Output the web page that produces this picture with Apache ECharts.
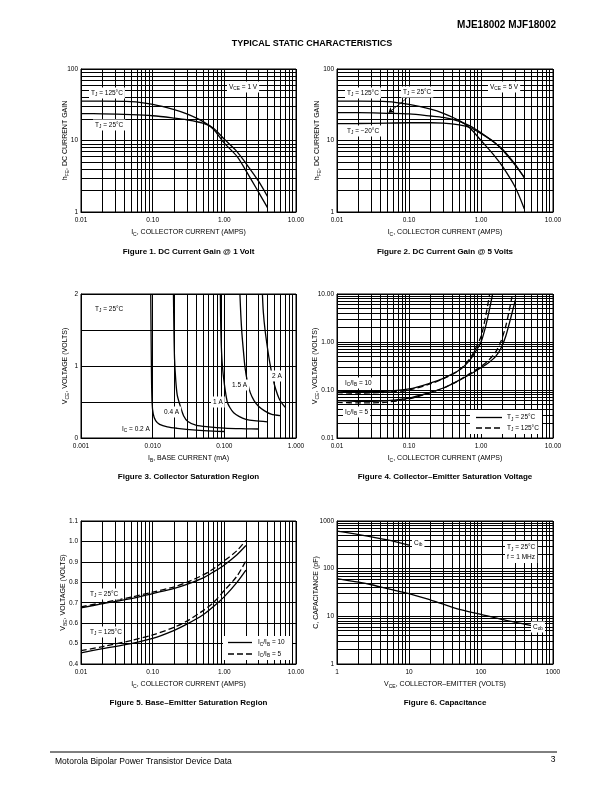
<!DOCTYPE html>
<html><head><meta charset="utf-8">
<script src="https://cdn.jsdelivr.net/npm/echarts/dist/echarts.min.js"></script>
<style>html,body{margin:0;padding:0;background:#fff}#c{width:612px;height:792px}</style>
</head><body><div id="c"></div>
<script>
// ---------- DATA ----------
// Figure 1: DC current gain @ 1 V
const f1Ic = [0.01,0.02,0.05,0.1,0.2,0.3,0.5,0.7,1,1.5,2,3,4];
const f1Hfe125 = [35.5,35.5,35,32,27,23.5,18.5,14.5,9.2,6,3.8,1.9,1.15];
const f1Hfe25 = [23.8,23.6,23,22.2,20.6,19.5,17.5,15,10.4,7,4.8,2.7,1.65];
const f1XTicks = ['0.01','0.10','1.00','10.00'];
const f1YTicks = ['1','10','100'];
// Figure 2: DC current gain @ 5 V
const f2Ic = [0.01,0.02,0.05,0.1,0.2,0.3,0.5,0.7,1,1.5,2,3,4];
const f2Hfe125 = [35.5,35.5,35,32,27.5,24,19,15,10,6.3,4.3,2.2,1.1];
const f2Hfe25 = [24.5,24.5,24,23.5,22,21,18.5,16,12.8,9.5,7.5,4.6,3];
const f2HfeM20 = [17.2,17.3,17.5,17.7,17.7,17.5,16.5,15.2,12.5,9.6,7.3,4.5,3.05];
// Figure 3: collector saturation region (IB in mA, VCE in V)
const f3Ib02 = [0.0094,0.0096,0.0098,0.0102,0.011,0.0125,0.016,0.022,0.04,0.07,0.1];
const f3V02  = [2,1,0.5,0.33,0.24,0.19,0.155,0.135,0.11,0.095,0.09];
const f3Ib04 = [0.0195,0.0198,0.0202,0.021,0.022,0.024,0.027,0.031,0.04,0.06,0.1,0.2,0.3];
const f3V04  = [2,1.5,1.1,0.8,0.6,0.46,0.31,0.23,0.18,0.155,0.137,0.128,0.125];
const f3Ib1  = [0.088,0.089,0.091,0.094,0.1,0.11,0.12,0.135,0.16,0.2,0.26,0.4];
const f3V1   = [2,1.6,1.25,1.0,0.75,0.5,0.42,0.35,0.3,0.26,0.24,0.225];
const f3Ib15 = [0.165,0.17,0.176,0.185,0.195,0.21,0.23,0.26,0.3,0.36,0.45,0.6];
const f3V15  = [2,1.7,1.45,1.2,0.97,0.78,0.63,0.52,0.44,0.38,0.33,0.31];
const f3Ib2  = [0.34,0.35,0.37,0.4,0.43,0.47,0.52,0.58,0.65,0.72];
const f3V2   = [2,1.75,1.5,1.25,1.05,0.85,0.68,0.55,0.47,0.42];
const f3XTicks = ['0.001','0.010','0.100','1.000'];
const f3YTicks = ['0','','1','','2'];
// Figure 4: collector-emitter saturation voltage
const f4IcR10T25 = [0.01,0.02,0.03,0.05,0.1,0.2,0.3,0.5,0.7,0.85,1.0,1.15,1.3,1.45];
const f4VR10T25  = [0.095,0.092,0.092,0.095,0.105,0.14,0.175,0.26,0.42,0.65,1.0,2.0,4.5,10];
const f4IcR10T125 = [0.01,0.02,0.03,0.05,0.1,0.2,0.3,0.5,0.7,0.85,1.0,1.1,1.2,1.32];
const f4VR10T125  = [0.088,0.086,0.087,0.09,0.1,0.135,0.172,0.26,0.45,0.75,1.3,2.3,4.5,10];
const f4IcR5T25 = [0.01,0.02,0.03,0.05,0.1,0.2,0.3,0.5,0.7,1.0,1.3,1.6,1.9,2.2,2.5,2.8,3.0];
const f4VR5T25  = [0.06,0.058,0.058,0.06,0.068,0.09,0.11,0.16,0.21,0.29,0.38,0.5,0.75,1.3,2.6,5,7.5];
const f4IcR5T125 = [0.01,0.02,0.03,0.05,0.1,0.2,0.3,0.5,0.7,1.0,1.3,1.6,1.9,2.2,2.5,2.7];
const f4VR5T125  = [0.055,0.054,0.054,0.056,0.065,0.088,0.11,0.16,0.22,0.31,0.43,0.62,1.05,2.1,5,9];
const f4YTicks = ['0.01','0.10','1.00','10.00'];
// Figure 5: base-emitter saturation region
const f5Ic = [0.01,0.02,0.05,0.1,0.2,0.3,0.5,0.7,1.0,1.5,2.0];
const f5V25R10  = [0.675,0.695,0.72,0.745,0.77,0.79,0.82,0.85,0.885,0.935,0.98];
const f5V25R5   = [0.68,0.70,0.727,0.752,0.778,0.8,0.835,0.865,0.905,0.955,1.005];
const f5V125R10 = [0.455,0.475,0.5,0.525,0.565,0.595,0.64,0.68,0.73,0.8,0.86];
const f5V125R5  = [0.465,0.485,0.515,0.542,0.58,0.61,0.66,0.7,0.76,0.83,0.905];
const f5YTicks = ['0.4','0.5','0.6','0.7','0.8','0.9','1.0','1.1'];
// Figure 6: capacitance
const f6VCib = [1,2,5,10];
const f6Cib  = [615,520,400,310];
const f6VCob = [1,2,3,5,10,20,30,50,100,200,300,500];
const f6Cob  = [62,52,46,38,30,22,18,14,11,8.5,7.5,6.4];
const f6Ticks = ['1','10','100','1000'];

// ---------- BUILD ----------
const FONT = "'Liberation Sans', Arial, Helvetica, sans-serif";
const SUB = {s:{fontSize:5, lineHeight:5, verticalAlign:'bottom', fontFamily:FONT, color:'#000'}};
const gridsPx = [[81,69,215,143],[337,69,216,143],[81,294,215,144],[337,294,216,144],[81,521,215,143],[337,521,216,143]];
const yNameGaps = [11,15,11,17,13,16];

function logFmt(ticks, min){ return v => ticks[Math.round(Math.log10(v/min))] ?? ''; }
function linFmt(ticks, min, step){ return v => ticks[Math.round((v-min)/step)] ?? ''; }

const axisCommon = {
  axisTick:{show:false},
  axisLine:{show:true, lineStyle:{color:'#000', width:1}},
  splitLine:{show:true, lineStyle:{color:'#000', width:1}},
  axisLabel:{color:'#000', fontSize:6.5, fontFamily:FONT},
  nameLocation:'middle',
  nameMoveOverlap:false,
  nameTextStyle:{color:'#000', fontSize:7, fontFamily:FONT, lineHeight:10, rich:SUB}
};
function logX(g, min, max, ticks, name){
  return Object.assign({}, axisCommon, {gridIndex:g, type:'log', logBase:10, min, max, splitNumber:Math.round(Math.log10(max/min)),
    name, nameGap:15, axisLabel:Object.assign({}, axisCommon.axisLabel, {margin:4.5, formatter:logFmt(ticks,min)})});
}
function logY(g, min, max, ticks, name){
  return Object.assign({}, axisCommon, {gridIndex:g, type:'log', logBase:10, min, max, splitNumber:Math.round(Math.log10(max/min)),
    name, nameGap:yNameGaps[g], nameRotate:90, axisLabel:Object.assign({}, axisCommon.axisLabel, {margin:3, formatter:logFmt(ticks,min)})});
}
function linY(g, min, max, step, ticks, name){
  return Object.assign({}, axisCommon, {gridIndex:g, type:'value', min, max, interval:step,
    name, nameGap:yNameGaps[g], nameRotate:90, axisLabel:Object.assign({}, axisCommon.axisLabel, {margin:3, formatter:linFmt(ticks,min,step)})});
}

const xAxes = [
  logX(0,0.01,10,f1XTicks,'I{s|C}, COLLECTOR CURRENT (AMPS)'),
  logX(1,0.01,10,f1XTicks,'I{s|C}, COLLECTOR CURRENT (AMPS)'),
  logX(2,0.001,1,f3XTicks,'I{s|B}, BASE CURRENT (mA)'),
  logX(3,0.01,10,f1XTicks,'I{s|C}, COLLECTOR CURRENT (AMPS)'),
  logX(4,0.01,10,f1XTicks,'I{s|C}, COLLECTOR CURRENT (AMPS)'),
  logX(5,1,1000,f6Ticks,'V{s|CE}, COLLECTOR\u2013EMITTER (VOLTS)')
];
const yAxes = [
  logY(0,1,100,f1YTicks,'h{s|FE}, DC CURRENT GAIN'),
  logY(1,1,100,f1YTicks,'h{s|FE}, DC CURRENT GAIN'),
  linY(2,0,2,0.5,f3YTicks,'V{s|CE}, VOLTAGE (VOLTS)'),
  logY(3,0.01,10,f4YTicks,'V{s|CE}, VOLTAGE (VOLTS)'),
  linY(4,0.4,1.1,0.1,f5YTicks,'V{s|BE}, VOLTAGE (VOLTS)'),
  logY(5,1,1000,f6Ticks,'C, CAPACITANCE (pF)')
];

function minors(min, max){
  const out = [];
  for (let e = Math.round(Math.log10(min)); e < Math.round(Math.log10(max)); e++)
    for (let d = 2; d <= 9; d++) out.push(+(d*Math.pow(10,e)).toPrecision(6));
  return out;
}
function gridSeries(g, xs, ys){
  return {type:'line', xAxisIndex:g, yAxisIndex:g, data:[], z:1, silent:true, animation:false,
    markLine:{silent:true, animation:false, symbol:['none','none'], label:{show:false}, emphasis:{disabled:true},
      lineStyle:{color:'#000', width:1, type:'solid'},
      data:[...xs.map(v=>({xAxis:v})), ...ys.map(v=>({yAxis:v}))]}};
}
function curve(g, xs, ys, dashed){
  return {type:'line', xAxisIndex:g, yAxisIndex:g, z:5, silent:true, animation:false,
    data: xs.map((x,i)=>[x, ys[i]]), showSymbol:false, symbol:'none', smooth:0.3,
    lineStyle:{color:'#000', width:1.3, type: dashed ? [6,3] : 'solid'}};
}

const series = [
  gridSeries(0, minors(0.01,10), minors(1,100)),
  gridSeries(1, minors(0.01,10), minors(1,100)),
  gridSeries(2, minors(0.001,1), []),
  gridSeries(3, minors(0.01,10), minors(0.01,10)),
  gridSeries(4, minors(0.01,10), []),
  gridSeries(5, minors(1,1000), minors(1,1000)),
  curve(0, f1Ic, f1Hfe125), curve(0, f1Ic, f1Hfe25),
  curve(1, f2Ic, f2Hfe125), curve(1, f2Ic, f2HfeM20),
  Object.assign(curve(1, f2Ic, f2Hfe25), {markLine:{silent:true, animation:false, symbol:['none','arrow'], symbolSize:5,
    label:{show:false}, lineStyle:{color:'#000', width:0.8, type:'solid'},
    data:[[{coord:[0.093,39]},{coord:[0.052,24.5]}]]}}),
  curve(2, f3Ib02, f3V02), curve(2, f3Ib04, f3V04), curve(2, f3Ib1, f3V1), curve(2, f3Ib15, f3V15), curve(2, f3Ib2, f3V2),
  curve(3, f4IcR10T25, f4VR10T25), curve(3, f4IcR10T125, f4VR10T125, true),
  curve(3, f4IcR5T25, f4VR5T25), curve(3, f4IcR5T125, f4VR5T125, true),
  curve(4, f5Ic, f5V25R10), curve(4, f5Ic, f5V25R5, true),
  curve(4, f5Ic, f5V125R10), curve(4, f5Ic, f5V125R5, true),
  curve(5, f6VCib, f6Cib), curve(5, f6VCob, f6Cob)
];

// ---------- TEXT / ANNOTATIONS ----------
const G = [];
function note(x, y, text, extra){
  G.push({type:'text', z:100, x, y, silent:true, style:Object.assign({text, fontSize:6.5, fontFamily:FONT, fill:'#000',
    lineHeight:9, rich:{s:{fontSize:4.8, lineHeight:4, verticalAlign:'bottom', fontFamily:FONT, fill:'#000'}},
    backgroundColor:'#fff', padding:[1,2,1,2], align:'left', verticalAlign:'middle'}, extra||{})});
}
function plain(x, y, text, size, weight, align){
  G.push({type:'text', z:100, x, y, silent:true, style:{text, fontSize:size, fontWeight:weight||'normal', fontFamily:FONT,
    fill:'#000', align:align||'center', verticalAlign:'middle'}});
}
function seg(x1,y1,x2,y2,dash){
  G.push({type:'line', z:101, silent:true, shape:{x1,y1,x2,y2}, style:{stroke:'#000', lineWidth:1.3, lineDash: dash ? [6,3] : null}});
}
function box(x,y,w,h){ G.push({type:'rect', z:99, silent:true, shape:{x,y,width:w,height:h}, style:{fill:'#fff'}}); }

plain(556, 25, 'MJE18002 MJF18002', 10, 'bold', 'right');
plain(312, 44, 'TYPICAL STATIC CHARACTERISTICS', 9, 'bold');
plain(188.5, 252, 'Figure 1. DC Current Gain @ 1 Volt', 8, 'bold');
plain(445, 252, 'Figure 2. DC Current Gain @ 5 Volts', 8, 'bold');
plain(188.5, 477, 'Figure 3. Collector Saturation Region', 8, 'bold');
plain(445, 477, 'Figure 4. Collector\u2013Emitter Saturation Voltage', 8, 'bold');
plain(188.5, 703, 'Figure 5. Base\u2013Emitter Saturation Region', 8, 'bold');
plain(445, 703, 'Figure 6. Capacitance', 8, 'bold');
plain(55, 762, 'Motorola Bipolar Power Transistor Device Data', 8.5, 'normal', 'left');
plain(553, 760, '3', 8.5, 'normal', 'center');
G.push({type:'line', z:100, silent:true, shape:{x1:50,y1:752,x2:557,y2:752}, style:{stroke:'#000', lineWidth:1}});

note(89, 93, 'T{s|J} = 125°C');
note(93, 125, 'T{s|J} = 25°C');
note(227, 87, 'V{s|CE} = 1 V');
note(345, 93, 'T{s|J} = 125°C');
note(401, 92, 'T{s|J} = 25°C');
note(488, 87, 'V{s|CE} = 5 V');
note(345, 131, 'T{s|J} = \u221220°C');
note(93, 309, 'T{s|J} = 25°C');
note(120, 429, 'I{s|C} = 0.2 A');
note(162, 412, '0.4 A');
note(211, 402, '1 A');
note(230, 385, '1.5 A');
note(270, 376, '2 A');
note(343, 383, 'I{s|C}/I{s|B} = 10');
note(343, 412, 'I{s|C}/I{s|B} = 5');
note(88, 594, 'T{s|J} = 25°C');
note(88, 632, 'T{s|J} = 125°C');
note(412, 543, 'C{s|ib}');
note(531, 627, 'C{s|ob}');
note(505, 552, 'T{s|J} = 25°C\nf = 1 MHz', {lineHeight:10});

// legend chart 4
box(470, 410, 72, 24);
seg(476, 417.5, 502, 417.5, false); note(505, 417.5, 'T{s|J} = 25°C', {backgroundColor:null});
seg(476, 428, 502, 428, true); note(505, 428, 'T{s|J} = 125°C', {backgroundColor:null});
// legend chart 5
box(223, 636, 69, 24);
seg(228, 642.5, 252, 642.5, false); note(256, 642.5, 'I{s|C}/I{s|B} = 10', {backgroundColor:null});
seg(228, 654, 252, 654, true); note(256, 654, 'I{s|C}/I{s|B} = 5', {backgroundColor:null});

const chart = echarts.init(document.getElementById('c'), null, {renderer:'canvas', width:612, height:792});
chart.setOption({
  backgroundColor:'#fff',
  animation:false,
  grid: gridsPx.map(([l,t,w,h]) => ({left:l, top:t, width:w, height:h, show:true, borderColor:'#000', borderWidth:1, backgroundColor:'transparent'})),
  xAxis: xAxes,
  yAxis: yAxes,
  series,
  graphic: G
});
</script></body></html>
